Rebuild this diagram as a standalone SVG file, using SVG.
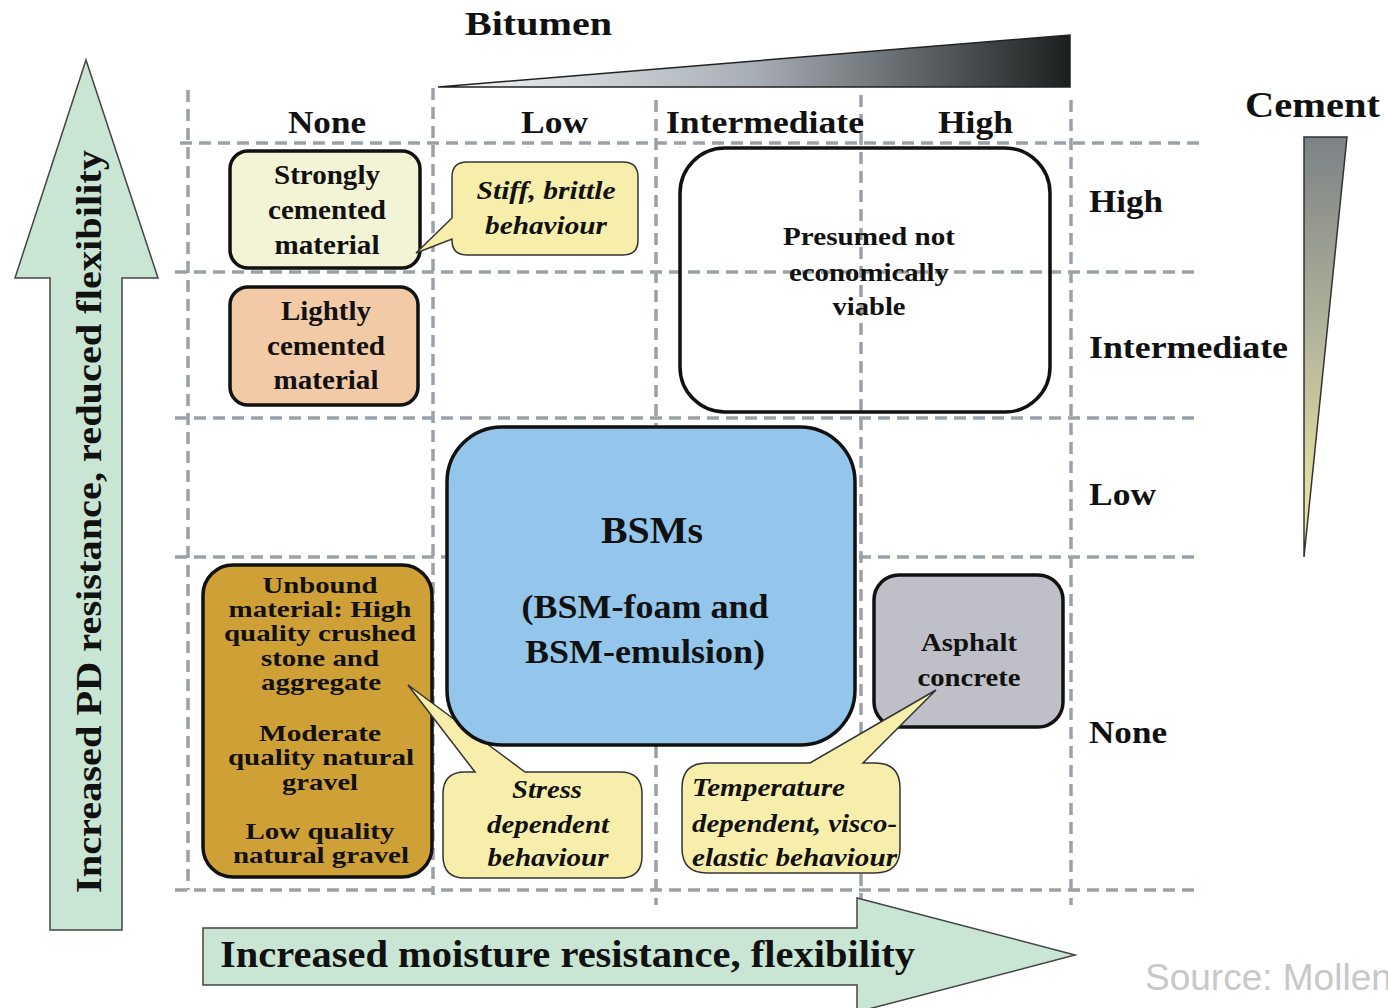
<svg xmlns="http://www.w3.org/2000/svg" width="1388" height="1008" viewBox="0 0 1388 1008">
<defs>
<linearGradient id="gBit" x1="0" y1="0" x2="1" y2="0">
<stop offset="0" stop-color="#f6f7f8"/>
<stop offset="0.5" stop-color="#a8aeb5"/>
<stop offset="1" stop-color="#1c1f1f"/>
</linearGradient>
<linearGradient id="gCem" x1="0" y1="0" x2="0" y2="1">
<stop offset="0" stop-color="#7c8286"/>
<stop offset="0.5" stop-color="#b7b79c"/>
<stop offset="1" stop-color="#f6efa2"/>
</linearGradient>
<style>
.t{font-family:"Liberation Serif","Times New Roman",serif;font-weight:bold;fill:#111;}
.c{text-anchor:middle;}
.i{font-style:italic;}
.grid line{stroke:#9ba1a8;stroke-width:3.5;stroke-dasharray:12 7;}
.box{stroke:#111;stroke-width:3.5;}
.call{fill:#f8eeab;stroke:#333;stroke-width:1.5;}
.arr{fill:#c9e6d4;stroke:#444;stroke-width:1.5;}
</style>
</defs>
<rect width="1388" height="1008" fill="#ffffff"/>

<g id="grid" class="grid">
<line x1="180" y1="143" x2="1205" y2="143"/>
<line x1="175" y1="272" x2="1200" y2="272"/>
<line x1="175" y1="418" x2="1200" y2="418"/>
<line x1="175" y1="557" x2="1200" y2="557"/>
<line x1="175" y1="890" x2="1200" y2="890"/>
<line x1="188" y1="90" x2="188" y2="890"/>
<line x1="433" y1="88" x2="433" y2="895"/>
<line x1="656" y1="100" x2="656" y2="905"/>
<line x1="861" y1="95" x2="861" y2="900"/>
<line x1="1071" y1="100" x2="1071" y2="905"/>
</g>

<g id="bitumen">
<polygon points="438,87 1070,35 1070,87" fill="url(#gBit)" stroke="#222" stroke-width="1.5"/>
<text class="t" x="465" y="35" font-size="34" textLength="147" lengthAdjust="spacingAndGlyphs">Bitumen</text>
</g>
<g id="cement">
<polygon points="1304,137 1347,137 1304,557" fill="url(#gCem)" stroke="#333" stroke-width="1.5"/>
<text class="t" x="1245" y="117" font-size="36" textLength="135" lengthAdjust="spacingAndGlyphs">Cement</text>
</g>

<g id="col-labels">
<text class="t" x="288" y="133" font-size="31" textLength="78" lengthAdjust="spacingAndGlyphs">None</text>
<text class="t" x="521" y="133" font-size="31" textLength="67" lengthAdjust="spacingAndGlyphs">Low</text>
<text class="t" x="666" y="133" font-size="31" textLength="198" lengthAdjust="spacingAndGlyphs">Intermediate</text>
<text class="t" x="938" y="133" font-size="31" textLength="75" lengthAdjust="spacingAndGlyphs">High</text>
</g>
<g id="row-labels">
<text class="t" x="1089" y="212" font-size="31" textLength="74" lengthAdjust="spacingAndGlyphs">High</text>
<text class="t" x="1089" y="358" font-size="31" textLength="199" lengthAdjust="spacingAndGlyphs">Intermediate</text>
<text class="t" x="1089" y="505" font-size="31" textLength="67" lengthAdjust="spacingAndGlyphs">Low</text>
<text class="t" x="1089" y="743" font-size="31" textLength="78" lengthAdjust="spacingAndGlyphs">None</text>
</g>

<g id="strongly">
<rect class="box" x="230" y="151" width="190" height="117" rx="18" fill="#f3f3d5"/>
<text class="t c" x="327" y="184" font-size="27" textLength="106" lengthAdjust="spacingAndGlyphs">Strongly</text>
<text class="t c" x="327" y="219" font-size="27" textLength="118" lengthAdjust="spacingAndGlyphs">cemented</text>
<text class="t c" x="327" y="254" font-size="27" textLength="105" lengthAdjust="spacingAndGlyphs">material</text>
</g>
<g id="stiff">
<path class="call" d="M467,162 H623 Q638,162 638,177 V240 Q638,255 623,255 H467 Q452,255 452,240 V239 L416,253 L452,218 V177 Q452,162 467,162 Z"/>
<text class="t c i" x="546" y="199" font-size="26" textLength="139" lengthAdjust="spacingAndGlyphs">Stiff, brittle</text>
<text class="t c i" x="546" y="234" font-size="26" textLength="122" lengthAdjust="spacingAndGlyphs">behaviour</text>
</g>
<g id="lightly">
<rect class="box" x="230" y="287" width="188" height="118" rx="18" fill="#f3caa6"/>
<text class="t c" x="326" y="320" font-size="27" textLength="90" lengthAdjust="spacingAndGlyphs">Lightly</text>
<text class="t c" x="326" y="355" font-size="27" textLength="118" lengthAdjust="spacingAndGlyphs">cemented</text>
<text class="t c" x="326" y="389" font-size="27" textLength="105" lengthAdjust="spacingAndGlyphs">material</text>
</g>
<g id="presumed">
<rect class="box" x="680" y="148" width="370" height="264" rx="45" fill="none"/>
<text class="t c" x="869" y="245" font-size="26" textLength="172" lengthAdjust="spacingAndGlyphs">Presumed not</text>
<text class="t c" x="869" y="281" font-size="26" textLength="160" lengthAdjust="spacingAndGlyphs">economically</text>
<text class="t c" x="869" y="315" font-size="26" textLength="73" lengthAdjust="spacingAndGlyphs">viable</text>
</g>
<g id="unbound">
<rect class="box" x="203" y="565" width="229" height="312" rx="30" fill="#cfa035"/>
<text class="t c" x="320" y="593" font-size="24" textLength="115" lengthAdjust="spacingAndGlyphs">Unbound</text>
<text class="t c" x="320" y="617" font-size="24" textLength="183" lengthAdjust="spacingAndGlyphs">material: High</text>
<text class="t c" x="320" y="641" font-size="24" textLength="192" lengthAdjust="spacingAndGlyphs">quality crushed</text>
<text class="t c" x="320" y="666" font-size="24" textLength="118" lengthAdjust="spacingAndGlyphs">stone and</text>
<text class="t c" x="321" y="690" font-size="24" textLength="120" lengthAdjust="spacingAndGlyphs">aggregate</text>
<text class="t c" x="320" y="741" font-size="24" textLength="122" lengthAdjust="spacingAndGlyphs">Moderate</text>
<text class="t c" x="321" y="765" font-size="24" textLength="186" lengthAdjust="spacingAndGlyphs">quality natural</text>
<text class="t c" x="320" y="790" font-size="24" textLength="76" lengthAdjust="spacingAndGlyphs">gravel</text>
<text class="t c" x="320" y="839" font-size="24" textLength="149" lengthAdjust="spacingAndGlyphs">Low quality</text>
<text class="t c" x="321" y="863" font-size="24" textLength="176" lengthAdjust="spacingAndGlyphs">natural gravel</text>
</g>
<g id="stress">
<path class="call" d="M465,772 H475 L408,685 L525,772 H620 Q642,772 642,794 V856 Q642,878 620,878 H465 Q443,878 443,856 V794 Q443,772 465,772 Z"/>
<text class="t c i" x="547" y="798" font-size="26" textLength="70" lengthAdjust="spacingAndGlyphs">Stress</text>
<text class="t c i" x="548" y="833" font-size="26" textLength="122" lengthAdjust="spacingAndGlyphs">dependent</text>
<text class="t c i" x="548" y="866" font-size="26" textLength="121" lengthAdjust="spacingAndGlyphs">behaviour</text>
</g>
<g id="bsm">
<rect class="box" x="447" y="427" width="408" height="318" rx="55" fill="#93c6ea"/>
<text class="t c" x="652" y="543" font-size="37" textLength="102" lengthAdjust="spacingAndGlyphs">BSMs</text>
<text class="t c" x="645" y="618" font-size="33" textLength="247" lengthAdjust="spacingAndGlyphs">(BSM-foam and</text>
<text class="t c" x="645" y="663" font-size="33" textLength="240" lengthAdjust="spacingAndGlyphs">BSM-emulsion)</text>
</g>
<g id="asphalt">
<rect class="box" x="874" y="575" width="189" height="152" rx="25" fill="#bfc0c7"/>
<text class="t c" x="969" y="651" font-size="26" textLength="96" lengthAdjust="spacingAndGlyphs">Asphalt</text>
<text class="t c" x="969" y="686" font-size="26" textLength="103" lengthAdjust="spacingAndGlyphs">concrete</text>
</g>
<g id="temperature">
<path class="call" d="M707,763 H810 L936,690 L863,763 H875 Q900,763 900,788 V848 Q900,873 875,873 H707 Q682,873 682,848 V788 Q682,763 707,763 Z"/>
<text class="t i" x="692" y="796" font-size="26" textLength="153" lengthAdjust="spacingAndGlyphs">Temperature</text>
<text class="t i" x="692" y="832" font-size="26" textLength="205" lengthAdjust="spacingAndGlyphs">dependent, visco-</text>
<text class="t i" x="692" y="866" font-size="26" textLength="205" lengthAdjust="spacingAndGlyphs">elastic behaviour</text>
</g>

<g id="arrow-up">
<polygon class="arr" points="86,60 158,278 122,278 122,930 50,930 50,278 15,278"/>
<text class="t" transform="translate(101,893) rotate(-90)" font-size="36" textLength="743" lengthAdjust="spacingAndGlyphs">Increased PD resistance, reduced flexibility</text>
</g>
<g id="arrow-right">
<polygon class="arr" points="203,928 857,928 857,898 1075,955 857,1012 857,985 203,985"/>
<text class="t" x="220" y="967" font-size="37" textLength="695" lengthAdjust="spacingAndGlyphs">Increased moisture resistance, flexibility</text>
</g>

<text x="1145" y="990" font-family="'Liberation Sans',Arial,sans-serif" font-size="37" fill="#c8c8c8">Source: Mollen</text>
</svg>
